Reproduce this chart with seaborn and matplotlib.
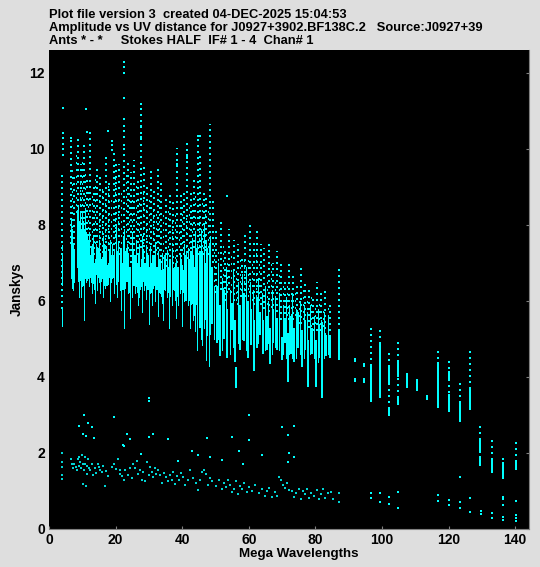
"""
Amplitude vs UV distance plot (AIPS style), values read off the reference by eye.
"""

import pandas as pd
import matplotlib
matplotlib.use("Agg")
import matplotlib.pyplot as plt
import seaborn as sns

BG = '#dedede'
CYAN = '#00ffff'

# Solid columns below 50 M-lambda: UV distance, amplitude low end, amplitude high end
solid_x = [3.9, 3.9, 3.9, 6.5, 6.8, 7.2, 7.6, 8.4, 8.7, 9.0, 9.3, 9.6, 9.9, 10.2, 10.5, 10.8, 11.1, 11.4,
           11.8, 12.1, 12.5, 12.9, 13.3, 13.7, 14.1, 14.5, 15.0, 15.4, 15.9, 16.3, 16.8, 17.2, 17.7, 18.2,
           18.6, 19.0, 19.5, 20.0, 20.4, 20.8, 21.2, 21.7, 22.1, 22.5, 22.9, 23.3, 23.8, 24.3, 24.8, 25.2,
           25.7, 26.1, 26.6, 27.0, 27.5, 28.0, 28.5, 29.0, 29.4, 29.9, 30.4, 30.8, 31.3, 31.8, 32.3, 32.8,
           33.3, 33.8, 34.3, 34.8, 35.3, 35.9, 36.4, 36.9, 37.5, 38.0, 38.6, 39.2, 39.8, 40.4, 41.0, 41.6,
           42.2, 42.8, 43.3, 43.9, 44.4, 45.0, 45.5, 46.0, 46.5, 47.0, 47.5, 48.0, 48.5, 49.0, 49.6]
solid_lo = [5.34, 6.42, 7.34, 6.6, 6.35, 6.3, 6.5, 6.9, 6.6, 6.1, 6.55, 6.1, 6.4, 6.55, 5.5, 6.6, 6.5, 6.55,
            6.6, 6.4, 6.5, 6.2, 6.6, 5.95, 6.7, 6.3, 6.5, 6.2, 6.6, 6.1, 6.35, 6.7, 6.45, 6.0,
            6.5, 6.6, 6.2, 6.45, 6.1, 6.6, 6.3, 5.75, 6.45, 5.3, 6.35, 6.6, 6.2, 5.55, 6.1, 6.5,
            6.2, 6.4, 5.9, 6.1, 6.4, 5.7, 6.3, 6.05, 6.5, 5.4, 6.2, 5.9, 6.35, 6.0, 6.5, 5.6,
            6.2, 5.95, 5.5, 6.3, 6.1, 5.3, 6.2, 5.9, 6.3, 5.55, 5.9, 6.2, 5.35, 6.0, 6.3, 5.9,
            5.3, 5.95, 5.5, 5.2, 4.7, 5.4, 5.0, 4.85, 5.3, 4.45, 5.1, 4.3, 5.15, 5.5, 5.0]
solid_hi = [5.84, 7.2, 7.47, 8.13, 7.9, 7.5, 7.3, 8.4, 8.47, 8.1, 8.3, 7.9, 8.35, 8.1, 7.9, 8.45, 7.8, 7.7,
            7.6, 7.8, 7.45, 7.2, 7.7, 7.1, 7.5, 7.3, 7.6, 7.25, 7.1, 7.7, 7.3, 7.45, 7.0, 7.6,
            7.2, 7.5, 7.3, 8.0, 7.1, 7.55, 7.35, 7.0, 7.7, 7.9, 7.3, 7.5, 7.2, 6.9, 7.8, 7.35,
            7.0, 7.6, 7.2, 7.5, 7.1, 7.7, 7.0, 7.4, 7.15, 6.9, 7.45, 7.2, 7.0, 7.55, 6.9, 7.3,
            7.0, 7.25, 6.85, 7.1, 7.35, 6.8, 7.0, 7.4, 6.9, 7.1, 6.8, 7.25, 6.95, 7.5, 6.9, 7.4,
            7.1, 7.6, 7.2, 7.8, 7.5, 7.0, 7.9, 7.3, 8.0, 7.6, 7.1, 7.5, 7.7, 6.9, 6.4]

# Thicker clumps sitting inside the dense band
clump_x = [8.9, 10.1, 11.2, 12.3, 13.1, 13.9, 14.8, 15.6, 16.5, 17.4, 18.3, 19.2, 20.6, 21.5, 22.3, 23.4, 24.4, 25.1, 25.9,
           26.6, 27.3, 28.1, 28.9, 29.8, 30.6, 31.5, 32.5, 33.2, 34.0, 34.8, 35.6, 36.4, 37.2, 38.0, 38.8, 39.5,
           40.2, 41.0, 41.9, 42.7, 43.5, 44.3, 45.2, 46.0, 46.8, 47.5, 48.3, 49.1]
clump_lo = [6.5, 6.4, 6.6, 6.6, 6.45, 6.3, 6.6, 6.5, 6.4, 6.4, 6.6, 6.6, 6.5, 6.4, 6.3, 6.5, 6.2, 6.4, 6.4,
            6.2, 6.3, 6.5, 6.4, 6.3, 6.2, 6.4, 6.3, 6.2, 6.1, 6.3, 6.2, 6.1, 6.3, 6.0, 6.1, 6.3,
            6.2, 6.0, 6.0, 5.9, 5.6, 5.9, 5.3, 5.7, 5.5, 5.8, 5.1, 5.4]
clump_hi = [7.6, 7.4, 7.7, 7.2, 7.5, 7.0, 7.4, 7.1, 7.5, 6.95, 7.3, 7.2, 7.3, 7.4, 7.0, 7.4, 6.9, 7.3, 7.2,
            7.0, 6.9, 7.3, 7.0, 7.2, 7.0, 7.2, 6.9, 7.1, 6.8, 7.2, 6.9, 7.1, 6.8, 7.0, 6.9, 7.1,
            6.8, 7.2, 7.1, 7.3, 6.9, 7.4, 7.3, 7.1, 7.0, 7.4, 6.8, 6.9]

# Wider clumped columns from 50 to 87 M-lambda
mid_x = [50.4, 51.4, 52.6, 53.6, 54.9, 55.9, 56.2, 57.4, 58.6, 59.8, 60.8, 61.6, 62.4, 63.4, 64.4, 65.4, 66.4, 67.4,
         68.4, 69.9, 70.9, 71.8, 72.7, 73.6, 74.8, 76.0, 77.0, 77.8, 79.0, 80.2, 81.1, 82.0, 83.2, 84.4, 87.1]
mid_lo = [4.9, 4.55, 5.0, 4.5, 5.24, 4.4, 3.7, 4.7, 4.95, 4.5, 4.85, 4.15, 4.75, 5.1, 4.6, 4.7, 4.35, 4.9,
          4.7, 4.45, 4.9, 3.87, 4.6, 4.4, 4.75, 4.26, 4.7, 3.74, 4.6, 3.74, 4.5, 3.45, 4.55, 4.5, 4.45]
mid_hi = [6.4, 5.9, 6.3, 5.8, 5.95, 5.5, 4.26, 5.9, 6.2, 6.0, 5.8, 5.5, 6.1, 5.7, 5.5, 5.6, 5.3, 5.8,
          5.55, 5.05, 5.5, 5.16, 5.6, 5.3, 5.7, 5.24, 5.5, 4.97, 5.3, 4.97, 5.4, 5.45, 5.1, 5.1, 5.2]
# Thin columns between them
mid2_x = [50.9, 52.0, 53.1, 54.3, 55.4, 56.8, 58.0, 59.2, 60.3, 61.2, 62.9, 63.9, 64.9, 65.9, 66.9, 67.9, 69.1, 70.4,
          71.3, 72.2, 73.1, 74.2, 75.4, 76.5, 77.4, 78.4, 79.6, 80.7, 81.6, 82.6, 83.8]
mid2_lo = [5.0, 4.7, 5.1, 4.6, 4.8, 4.9, 5.0, 4.7, 4.9, 4.6, 4.9, 5.0, 4.7, 4.9, 4.6, 4.8, 4.7, 4.6,
           4.5, 4.6, 4.5, 4.5, 4.6, 4.5, 4.4, 4.6, 4.5, 4.4, 4.5, 4.5, 4.6]
mid2_hi = [7.0, 6.6, 6.9, 6.3, 6.8, 6.5, 6.7, 6.9, 6.5, 6.3, 6.6, 6.2, 6.4, 6.0, 6.3, 6.1, 6.2, 5.9,
           6.1, 5.9, 6.2, 5.8, 6.0, 5.9, 5.7, 5.9, 5.6, 5.8, 5.5, 5.7, 5.6]

# Far end of the baseline range, fewer and thinner columns
sparse_x = [92.0, 92.0, 94.6, 94.6, 96.8, 99.4, 102.0, 102.0, 104.7, 104.7, 107.4, 110.4, 113.5, 116.8, 116.8,
            120.0, 120.0, 123.3, 126.5, 129.4, 129.4, 132.9, 136.4, 140.2, 96.8, 99.4, 116.8]
sparse_lo = [4.4, 3.87, 4.26, 3.85, 3.35, 3.9, 3.8, 2.97, 3.26, 4.0, 3.7, 3.63, 3.39, 3.18, 3.9,
             3.08, 3.95, 2.82, 3.13, 2.0, 1.66, 1.47, 1.32, 1.55, 3.9, 3.45, 4.1]
sparse_hi = [4.5, 3.97, 4.37, 3.97, 4.3, 4.9, 4.25, 3.2, 3.45, 4.4, 4.1, 3.95, 3.53, 3.95, 4.25,
             3.55, 4.15, 3.35, 3.72, 2.35, 1.9, 1.85, 1.75, 1.8, 4.3, 4.5, 4.4]

# Dotted columns running up out of the dense region
dot_x = [3.9, 6.6, 7.4, 8.8, 9.6, 10.4, 11.3, 12.4, 13.4, 14.4, 15.4, 16.2, 17.1, 18.1, 19.4, 20.2, 21.1, 22.5, 23.6,
         24.6, 25.5, 26.6, 27.7, 28.6, 29.5, 30.6, 31.6, 32.6, 33.6, 35.0, 36.3, 37.3, 38.4, 39.5, 40.6, 41.5,
         42.5, 43.4, 44.6, 45.4, 46.4, 47.2, 48.4, 49.2, 50.1, 51.6, 53.0, 54.1, 55.6, 56.8, 58.1, 59.0, 60.4,
         61.6, 62.6, 63.8, 64.7, 66.2, 67.4, 68.4, 69.7, 70.9, 72.1, 73.3, 74.5, 75.6, 76.9, 78.2, 79.4, 80.6,
         81.8, 83.0, 84.4, 87.1, 96.8, 99.4, 102.0, 104.7, 116.8, 120.0, 123.3, 126.5, 129.4, 132.9, 136.4, 140.2]
dot_lo = [5.8, 7.5, 7.3, 8.0, 8.0, 8.0, 7.7, 7.4, 7.2, 7.2, 7.3, 7.1, 7.2, 7.3, 7.3, 7.5, 7.2, 7.6, 7.2,
          7.0, 7.3, 7.2, 7.4, 7.1, 7.2, 7.3, 7.1, 7.2, 7.0, 6.9, 7.0, 6.8, 7.0, 7.0, 7.2, 7.1,
          7.2, 7.4, 7.2, 7.4, 7.2, 7.4, 7.3, 7.0, 6.2, 6.3, 6.0, 6.3, 6.0, 5.9, 6.1, 6.1, 6.2,
          5.9, 5.9, 5.9, 5.8, 5.7, 5.7, 5.7, 5.5, 5.5, 5.5, 5.5, 5.4, 5.4, 5.3, 5.3, 5.2, 5.2,
          5.2, 5.1, 5.2, 5.2, 3.35, 3.45, 3.0, 3.3, 3.2, 3.1, 2.85, 3.2, 1.7, 1.5, 1.35, 1.6]
dot_hi = [9.4, 10.3, 9.3, 10.25, 9.6, 10.1, 9.2, 10.44, 9.0, 9.55, 9.3, 9.0, 9.8, 9.1, 9.9, 9.65, 9.6, 10.1, 9.7,
          9.4, 9.7, 9.2, 11.18, 9.6, 9.1, 9.45, 9.0, 9.5, 9.1, 8.7, 8.9, 8.6, 10.02, 8.8, 8.9, 10.24,
          8.9, 9.2, 10.35, 9.9, 8.9, 8.8, 10.66, 8.7, 7.9, 8.1, 7.4, 7.9, 7.6, 7.5, 7.2, 7.8, 8.0,
          7.6, 7.9, 7.5, 7.4, 7.6, 7.0, 7.3, 7.0, 6.6, 7.0, 6.7, 6.4, 6.9, 6.5, 6.4, 6.1, 6.5,
          6.2, 6.3, 6.0, 6.9, 5.3, 5.29, 4.74, 4.92, 4.8, 4.45, 3.87, 4.71, 2.82, 2.42, 1.97, 2.32]

# A second, offset set of dotted columns filling in between
dot2_x = [7.0, 8.2, 9.2, 10.0, 10.8, 11.8, 12.9, 13.9, 14.9, 15.8, 16.7, 17.6, 18.6, 19.9, 20.7, 21.6, 23.1, 24.1,
          25.0, 26.0, 27.1, 28.2, 29.0, 30.1, 31.1, 32.1, 33.1, 34.2, 35.6, 36.8, 37.9, 39.0, 40.0, 41.0, 42.0,
          43.0, 43.9, 45.0, 45.9, 46.8, 47.8, 49.7, 50.7, 52.2, 53.6, 54.8, 56.2, 57.4, 58.6, 59.7, 61.0, 62.2,
          63.2, 65.4, 66.8, 67.9, 69.1, 70.3, 71.5, 72.7, 73.9, 75.1, 76.3, 77.6, 78.8, 80.0, 81.2, 82.4, 83.7]
dot2_lo = [7.8, 8.2, 8.2, 8.2, 7.9, 7.6, 7.5, 7.4, 7.4, 7.3, 7.3, 7.2, 7.4, 7.6, 7.4, 7.4, 7.5, 7.2,
           7.4, 7.2, 7.3, 7.2, 7.3, 7.2, 7.3, 7.2, 7.2, 7.0, 7.1, 7.0, 7.0, 7.1, 7.2, 7.1, 7.2,
           7.3, 7.3, 7.3, 7.3, 7.2, 7.1, 6.4, 6.2, 6.0, 6.1, 6.1, 5.9, 6.0, 6.0, 6.0, 5.9, 6.0,
           5.9, 5.8, 5.7, 5.8, 5.6, 5.5, 5.5, 5.5, 5.5, 5.3, 5.4, 5.3, 5.2, 5.3, 5.2, 5.2, 5.3]
dot2_hi = [9.6, 9.9, 9.2, 9.7, 9.4, 8.9, 8.8, 9.2, 8.7, 9.0, 8.6, 9.1, 8.8, 9.4, 8.9, 9.0, 9.3, 8.9,
           8.8, 9.1, 8.7, 8.9, 8.5, 8.8, 8.6, 8.4, 8.7, 8.3, 8.5, 8.2, 8.4, 8.1, 8.5, 8.3, 8.6,
           8.5, 8.9, 8.4, 8.7, 8.3, 8.5, 7.6, 7.3, 7.5, 7.1, 7.2, 6.9, 7.1, 7.4, 7.2, 7.0, 7.3,
           7.1, 6.8, 7.0, 6.6, 6.7, 6.4, 6.5, 6.3, 6.2, 6.1, 6.3, 6.0, 6.2, 5.9, 6.0, 5.8, 5.9]

# Isolated spots: outliers above the main band
high_x = [4.1, 4.1, 4.1, 4.1, 4.1, 4.1, 11.1, 22.5, 22.5, 22.5, 22.5, 22.5, 22.5, 22.5, 22.5, 22.5, 17.8, 11.5, 6.5,
          18.8, 18.8, 18.8, 38.4, 41.5, 41.5, 44.8, 45.2, 53.4, 27.7, 27.7, 27.7, 27.7]
high_y = [11.07, 10.41, 10.28, 10.13, 10.0, 9.84, 11.05, 12.28, 12.14, 12.0, 11.33, 10.79, 10.6, 10.46, 10.3, 10.09,
          10.47, 10.44, 10.28, 10.2, 10.1, 9.97, 9.6, 9.85, 9.76, 10.35, 10.35, 8.77, 11.18, 10.9, 10.6, 10.3]

# Lower band (roughly 1.7 Jy falling to 1 Jy) and its scatter
low_x = [3.9, 3.9, 3.9, 3.9, 3.9, 6.7, 6.9, 7.1, 7.4, 8.1, 8.4, 8.6, 9.0, 9.1, 9.3, 9.5, 9.8, 10.1, 10.3, 10.5, 10.7,
         10.9, 11.1, 11.3, 11.5, 11.7, 12.0, 12.4, 12.8, 13.3, 13.7, 14.2, 14.6, 15.0, 15.4, 15.8, 16.3, 16.8,
         17.2, 17.6, 18.8, 19.4, 20.0, 20.8, 21.2, 21.4, 22.0, 22.4, 22.9, 23.6, 24.2, 24.8, 25.2, 25.7, 26.3,
         26.8, 27.4, 27.8, 28.3, 28.8, 29.3, 29.9, 30.2, 30.8, 31.3, 31.8, 32.2, 32.8, 33.4, 34.0, 34.6, 35.2,
         35.8, 36.2, 36.8, 37.3, 37.8, 38.4, 38.9, 39.5, 40.1, 40.8, 41.6, 42.4, 43.2, 44.0, 44.6, 45.3, 45.8,
         46.4, 47.0, 47.8, 48.4, 49.1, 50.3, 51.2, 52.0, 52.6, 53.3, 53.9, 54.5, 55.0, 55.6, 56.2, 56.8, 57.4,
         58.0, 58.6, 59.4, 60.0, 61.0, 62.0, 63.0, 64.0, 64.8, 65.4, 66.2, 67.0, 67.9, 68.6, 69.2, 69.6, 70.2,
         70.8, 71.4, 72.0, 72.9, 73.6, 74.3, 75.0, 75.6, 76.2, 76.8, 77.4, 78.0, 78.8, 79.6, 80.4, 81.0, 81.6,
         82.2, 83.0, 83.8, 84.6, 85.2, 87.1, 87.1]
low_y = [2.0, 1.75, 1.62, 1.42, 1.32, 1.85, 1.7, 1.6, 1.72, 1.64, 1.55, 1.85, 1.9, 1.66, 1.75, 1.6, 1.95, 1.7, 1.18, 1.55, 1.72,
         1.9, 1.14, 1.45, 1.65, 1.85, 1.6, 1.55, 1.7, 1.42, 1.6, 1.48, 1.72, 1.62, 1.55, 1.5, 1.66, 1.12,
         1.52, 1.4, 1.63, 1.7, 1.58, 1.85, 1.55, 1.45, 1.4, 1.3, 1.55, 1.42, 1.6, 1.35, 1.72, 1.6, 1.78,
         1.45, 1.55, 1.3, 1.5, 1.25, 1.75, 1.42, 1.62, 1.5, 1.38, 1.6, 1.45, 1.55, 1.42, 1.22, 1.48, 1.36,
         1.26, 1.42, 1.3, 1.5, 1.18, 1.4, 1.28, 1.48, 1.38, 1.16, 1.3, 1.55, 1.35, 1.2, 1.02, 1.3, 1.5,
         1.55, 1.45, 1.15, 1.35, 1.25, 1.12, 1.3, 1.05, 1.22, 1.1, 1.3, 1.15, 0.98, 1.05, 1.25, 0.92, 1.12,
         1.05, 1.2, 0.98, 1.1, 1.0, 1.15, 0.95, 1.05, 0.88, 1.0, 1.08, 0.85, 0.98, 0.88, 1.36, 1.3, 1.15,
         1.08, 1.22, 1.02, 1.0, 0.85, 0.95, 1.05, 0.8, 1.0, 0.92, 1.06, 0.82, 0.95, 0.88, 1.03, 0.78, 0.92,
         1.05, 0.82, 0.95, 0.98, 0.8, 0.95, 0.72]
scatter_x = [30.1, 30.1, 10.6, 9.0, 11.6, 13.0, 10.3, 11.2, 13.5, 19.6, 23.4, 24.2, 30.0, 31.2, 35.6, 22.2, 22.6, 47.3, 55.0,
             60.0, 60.0, 43.0, 44.8, 48.5, 52.0, 57.0, 58.2, 64.1, 27.7, 38.6, 69.9, 73.6, 71.8, 72.1, 73.6, 71.8]
scatter_y = [3.45, 3.36, 3.0, 2.7, 2.78, 2.67, 2.5, 2.45, 2.39, 2.94, 2.49, 2.37, 2.41, 2.5, 2.36, 2.2, 2.18, 2.39, 2.43,
             3.0, 2.33, 2.05, 1.94, 1.9, 1.82, 2.05, 1.72, 1.95, 1.97, 1.8, 2.68, 2.7, 2.47, 2.0, 1.9, 1.75]
far_x = [123.3, 96.8, 96.8, 99.4, 99.4, 102.0, 102.0, 104.7, 104.7, 116.8, 116.8, 120.0, 120.0, 123.3, 123.3,
         126.5, 126.5, 129.6, 129.6, 132.9, 132.9, 136.4, 136.4, 136.4, 136.4, 136.4, 140.2, 140.2, 140.2, 140.2]
far_y = [1.36, 0.96, 0.81, 0.96, 0.72, 0.85, 0.66, 0.97, 0.56, 0.89, 0.74, 0.76, 0.63, 0.70, 0.55,
         0.81, 0.45, 0.48, 0.39, 0.42, 0.30, 0.85, 0.79, 0.64, 0.32, 0.24, 0.73, 0.37, 0.30, 0.22]

x_ticks = [0, 20, 40, 60, 80, 100, 120, 140]
y_ticks = [0, 2, 4, 6, 8, 10, 12]
title_lines = ["Plot file version 3  created 04-DEC-2025 15:04:53",
               "Amplitude vs UV distance for J0927+3902.BF138C.2   Source:J0927+39",
               "Ants * - *     Stokes HALF  IF# 1 - 4  Chan# 1"]

sns.set_theme(style="dark")
plt.rcParams.update({
    'font.family': ['Liberation Sans', 'DejaVu Sans'],
    'font.weight': 'bold',
    'figure.facecolor': BG,
    'axes.facecolor': 'black',
    'axes.labelcolor': 'black',
    'text.color': 'black',
    'xtick.color': 'black',
    'ytick.color': 'black',
})

fig = plt.figure(figsize=(5.4, 5.67), dpi=100)
ax = fig.add_axes([49 / 540, 38 / 567, 479.5 / 540, 479 / 567])

ax.vlines(dot_x, dot_lo, dot_hi, color=CYAN, linewidth=1.44, linestyles=(0, (0.8, 2.2)), antialiased=False)
ax.vlines(dot2_x, dot2_lo, dot2_hi, color=CYAN, linewidth=0.72, linestyles=(2, (1.6, 5.2)), antialiased=False)
ax.vlines(solid_x, solid_lo, solid_hi, color=CYAN, linewidth=0.72, antialiased=False)
ax.vlines(clump_x, clump_lo, clump_hi, color=CYAN, linewidth=1.44, antialiased=False)
ax.vlines(mid_x, mid_lo, mid_hi, color=CYAN, linewidth=1.44, antialiased=False)
ax.vlines(mid2_x, mid2_lo, mid2_hi, color=CYAN, linewidth=0.72, antialiased=False)
ax.vlines(sparse_x, sparse_lo, sparse_hi, color=CYAN, linewidth=1.2, antialiased=False)

spots = pd.concat([
    pd.DataFrame({'uv': high_x, 'amp': high_y}),
    pd.DataFrame({'uv': far_x, 'amp': far_y}),
    pd.DataFrame({'uv': scatter_x, 'amp': scatter_y}),
])
band = pd.DataFrame({'uv': low_x, 'amp': low_y})
sns.scatterplot(data=spots, x='uv', y='amp', ax=ax, marker='s', s=2.2, color=CYAN, linewidth=0)
sns.scatterplot(data=band, x='uv', y='amp', ax=ax, marker='|', s=3.5, color=CYAN, linewidth=1.2)

ax.set_xlim(0, 144)
ax.set_ylim(0, 12.6)
ax.set_xticks(x_ticks)
ax.set_yticks(y_ticks)
ax.tick_params(axis='both', direction='in', length=2, color='#808080', width=0.8, labelsize=10, pad=3,
               bottom=True, left=False, right=True)
ax.set_ylabel("Janskys", fontsize=9.8, fontweight='bold', labelpad=4)
ax.set_xlabel("")
ax.grid(False)

for side in ['top', 'left']:
    ax.spines[side].set_visible(False)
for side in ['right', 'bottom']:
    ax.spines[side].set_color('#808080')
    ax.spines[side].set_linewidth(0.8)

# x label sits off centre in the original
fig.text(298.5 / 540, 1 - 554 / 567, "Mega Wavelengths", fontsize=9.6, fontweight='bold', ha='center', va='center')

for i, line in enumerate(title_lines):
    fig.text(49 / 540, 1 - (14.5 + i * 13) / 567, line, fontsize=9.3, fontweight='bold', ha='left', va='center')

fig.savefig("out.png", dpi=100, facecolor=BG)
